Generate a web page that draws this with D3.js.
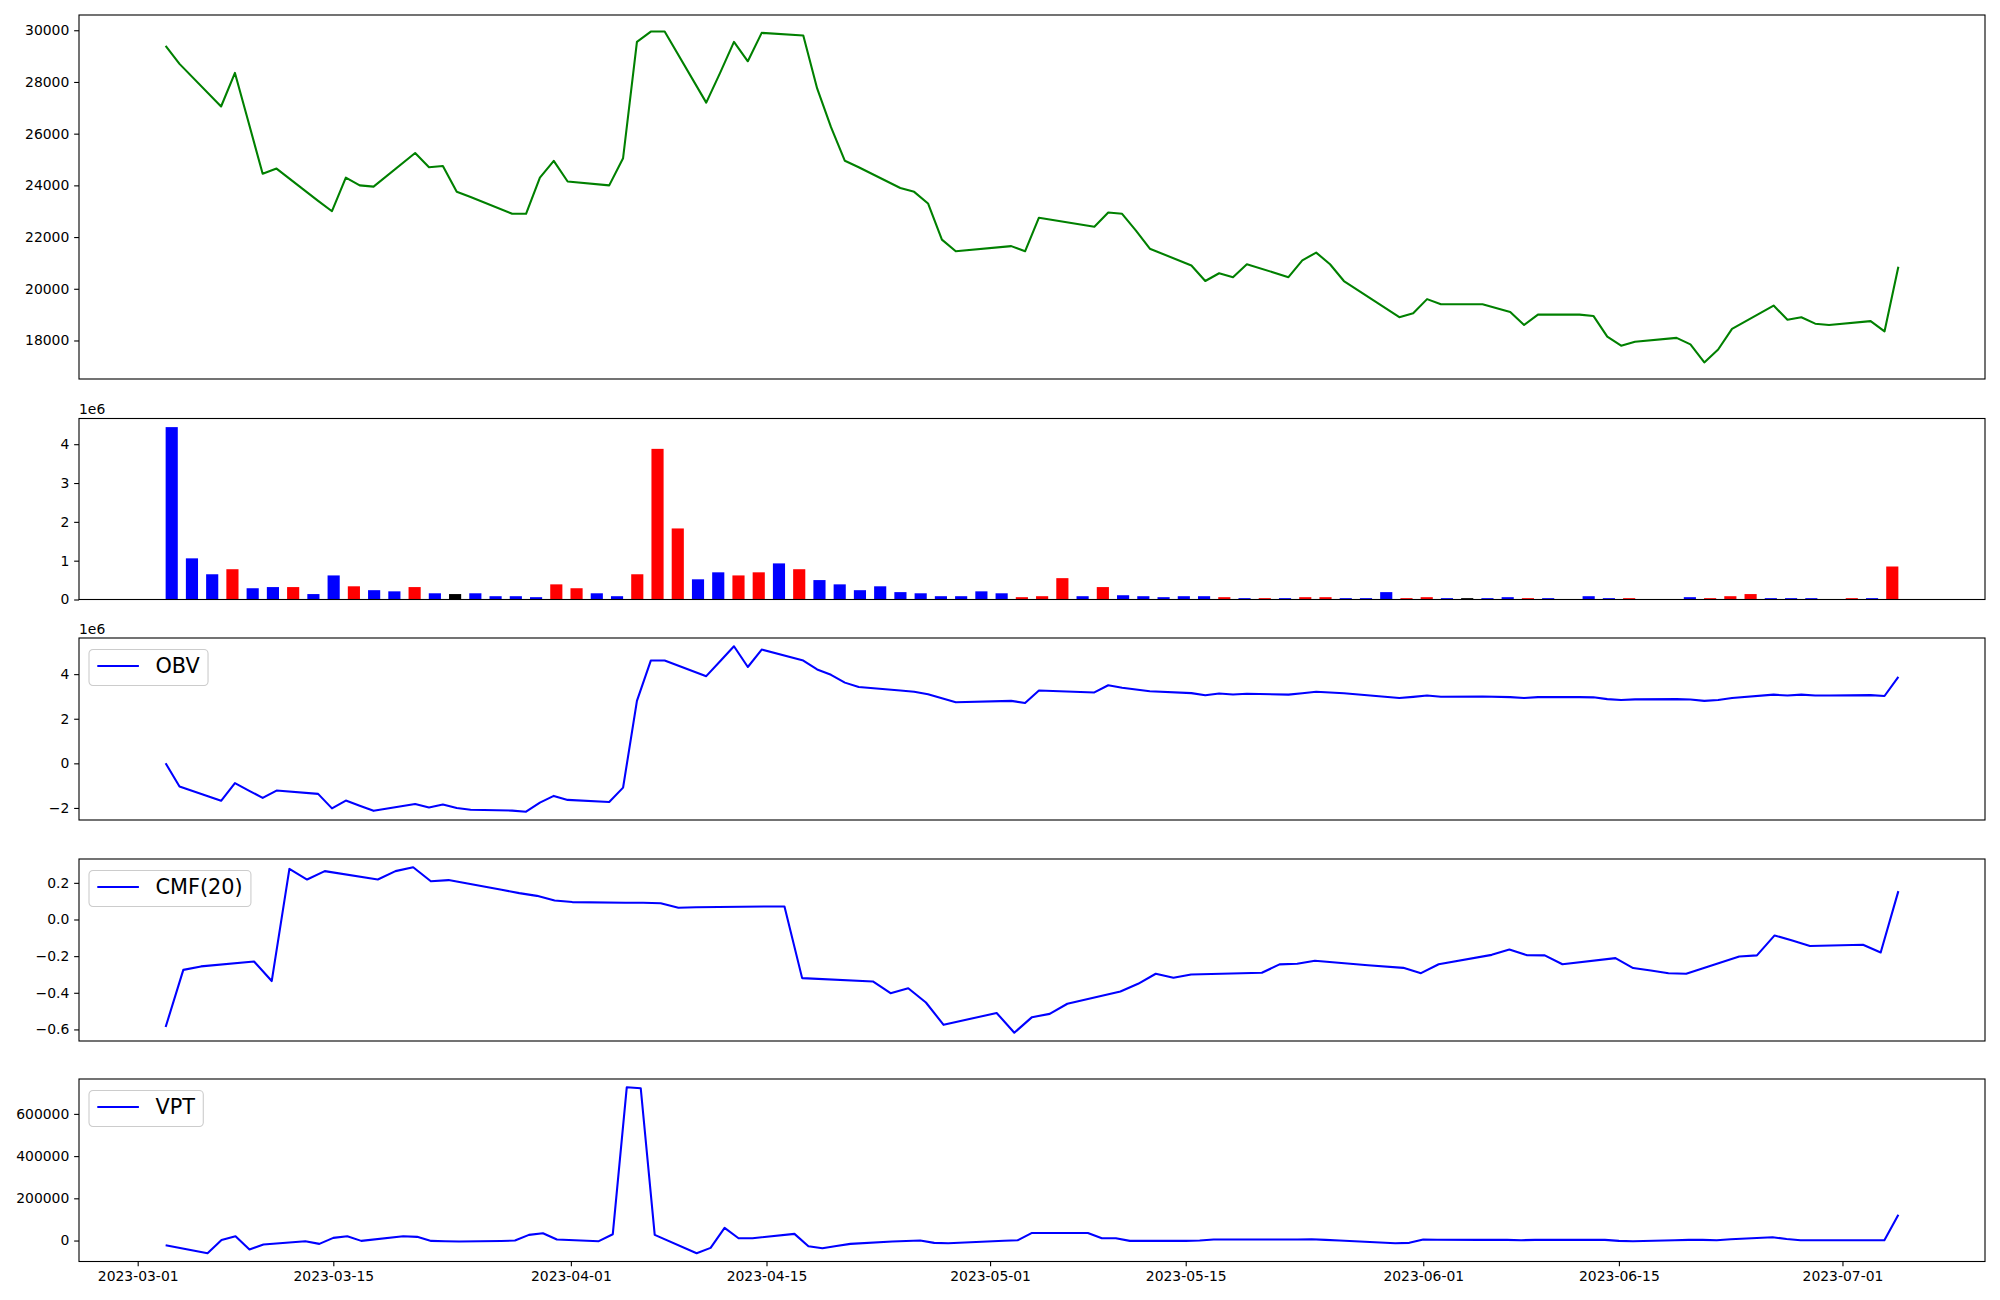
<!DOCTYPE html>
<html><head><meta charset="utf-8">
<script src="https://cdn.jsdelivr.net/npm/d3@7"></script>
<style>
body{margin:0;background:#fff;}
svg{display:block;font-family:"DejaVu Sans",sans-serif;}
</style>
</head><body>
<svg id="chart" width="2000" height="1300"></svg>
<script>
// ---------------- DATA ----------------
const dates = ["2023-03-02","2023-03-03","2023-03-06","2023-03-07","2023-03-08","2023-03-09","2023-03-10","2023-03-13","2023-03-14","2023-03-15","2023-03-16","2023-03-17","2023-03-20","2023-03-21","2023-03-22","2023-03-23","2023-03-24","2023-03-27","2023-03-28","2023-03-29","2023-03-30","2023-03-31",
"2023-04-03","2023-04-04","2023-04-05","2023-04-06","2023-04-07","2023-04-10","2023-04-11","2023-04-12","2023-04-13","2023-04-14","2023-04-17","2023-04-18","2023-04-19","2023-04-20","2023-04-21","2023-04-24","2023-04-25","2023-04-26","2023-04-27","2023-04-28",
"2023-05-02","2023-05-03","2023-05-04","2023-05-08","2023-05-09","2023-05-10","2023-05-11","2023-05-12","2023-05-15","2023-05-16","2023-05-17","2023-05-18","2023-05-19","2023-05-22","2023-05-23","2023-05-24","2023-05-25","2023-05-26","2023-05-30","2023-05-31",
"2023-06-01","2023-06-02","2023-06-05","2023-06-07","2023-06-08","2023-06-09","2023-06-12","2023-06-13","2023-06-14","2023-06-15","2023-06-16","2023-06-19","2023-06-20","2023-06-21","2023-06-22","2023-06-23","2023-06-26","2023-06-27","2023-06-28","2023-06-29","2023-06-30",
"2023-07-03","2023-07-04","2023-07-05"];

const close = [29400,28700,27050,28350,26400,24450,24650,23400,23000,24300,24000,23950,25250,24700,24750,23750,23550,22900,22900,24300,24950,24150,
24000,25050,29550,29950,29950,27200,28350,29550,28800,29900,29800,27750,26250,24950,24700,23900,23750,23300,21900,21450,
21650,21450,22750,22400,22950,22900,22250,21550,20900,20300,20600,20450,20950,20450,21100,21400,20950,20300,18900,19050,
19600,19400,19400,19100,18600,19000,19000,18950,18150,17800,17950,18100,17850,17150,17650,18450,19350,18800,18900,18650,18600,
18750,18350,20850];

const volume = [4.44e6,1.06e6,0.65e6,0.78e6,0.29e6,0.32e6,0.32e6,0.14e6,0.62e6,0.34e6,
0.24e6,0.21e6,0.32e6,0.16e6,0.14e6,0.16e6,0.085e6,0.085e6,0.06e6,0.39e6,
0.29e6,0.16e6,0.085e6,0.65e6,3.88e6,1.83e6,0.52e6,0.70e6,0.62e6,0.70e6,
0.93e6,0.78e6,0.50e6,0.39e6,0.24e6,0.34e6,0.19e6,0.16e6,0.085e6,0.085e6,
0.21e6,0.16e6,0.06e6,0.085e6,0.55e6,0.085e6,0.32e6,0.11e6,0.085e6,0.06e6,
0.085e6,0.085e6,0.06e6,0.035e6,0.035e6,0.035e6,0.06e6,0.06e6,0.035e6,0.035e6,
0.19e6,0.035e6,0.06e6,0.035e6,0.035e6,0.035e6,0.06e6,0.035e6,0.035e6,0.01e6,
0.085e6,0.035e6,0.035e6,0.01e6,0.01e6,0.06e6,0.035e6,0.085e6,0.14e6,0.035e6,
0.035e6,0.035e6,0.01e6,0.035e6,0.035e6,0.85e6];

// candle direction: 1 = up (red), -1 = down (blue), 0 = unchanged (black)
const candle = [-1,-1,-1,1,-1,-1,1,-1,-1,1,-1,-1,1,-1,0,-1,-1,-1,-1,1,1,-1,-1,1,1,1,-1,-1,1,1,
-1,1,-1,-1,-1,-1,-1,-1,-1,-1,-1,-1,1,1,1,-1,1,-1,-1,-1,-1,-1,1,-1,1,-1,1,1,-1,-1,
-1,1,1,-1,0,-1,-1,1,-1,-1,-1,-1,1,1,-1,-1,1,1,1,-1,-1,-1,-1,1,-1,1];

const obv = [0,-1.04e6,-1.68e6,-0.89e6,-1.22e6,-1.55e6,-1.22e6,-1.37e6,-2.02e6,-1.67e6,
-1.90e6,-2.13e6,-1.82e6,-1.98e6,-1.85e6,-2.00e6,-2.08e6,-2.12e6,-2.17e6,-1.76e6,
-1.46e6,-1.64e6,-1.73e6,-1.09e6,2.80e6,4.61e6,4.61e6,3.91e6,4.58e6,5.25e6,
4.32e6,5.10e6,4.61e6,4.21e6,3.97e6,3.62e6,3.42e6,3.27e6,3.21e6,3.10e6,
2.92e6,2.74e6,2.80e6,2.71e6,3.27e6,3.18e6,3.50e6,3.39e6,3.31e6,3.23e6,
3.15e6,3.05e6,3.13e6,3.09e6,3.12e6,3.08e6,3.14e6,3.21e6,3.18e6,3.14e6,
2.93e6,2.98e6,3.04e6,2.99e6,3.00e6,2.97e6,2.93e6,2.97e6,2.97e6,2.96e6,
2.88e6,2.84e6,2.87e6,2.88e6,2.86e6,2.80e6,2.84e6,2.93e6,3.08e6,3.04e6,
3.08e6,3.04e6,3.04e6,3.06e6,3.02e6,3.88e6];

const cmf = [null,null,null,null,null,null,null,null,null,null,null,null,null,null,null,null,null,null,null,
-0.587,-0.275,-0.256,-0.229,-0.336,0.276,0.218,0.264,0.218,0.264,0.285,0.209,0.215,
0.162,0.144,0.129,0.104,0.095,0.091,0.091,0.089,0.064,0.067,0.071,0.071,-0.320,
-0.338,-0.402,-0.375,-0.453,-0.575,-0.510,-0.618,-0.533,-0.515,-0.460,
-0.393,-0.351,-0.296,-0.318,-0.300,-0.291,-0.245,-0.242,-0.225,-0.250,-0.264,-0.293,-0.244,
-0.193,-0.164,-0.195,-0.196,-0.244,-0.211,-0.265,-0.278,-0.293,-0.296,
-0.202,-0.196,-0.087,-0.115,-0.145,-0.138,-0.180,0.155];

const vpt = [null,-22000,-60000,3000,20500,-42600,-19000,-3000,-15800,12600,
20500,-1600,20500,17400,-1600,-3000,-4700,-2000,0,26800,
34700,4700,-3000,30000,726000,721600,26800,-60000,-34700,60000,
11000,11000,31600,-26800,-36300,-26000,-15800,-4700,-2300,0,
-11000,-12600,-1000,1600,36000,36000,11000,11000,-1600,-1600,
-1600,0,4700,4700,4700,4700,4700,6300,3000,0,
-12600,-11000,4700,4000,3000,3000,1600,3000,3000,3000,
3000,-1600,-3000,1600,3000,3000,1600,6300,15800,7000,
1600,1600,1600,1600,1600,121600];

const priceTicks = [18000,20000,22000,24000,26000,28000,30000];
const volumeTicks = [0,1e6,2e6,3e6,4e6];
const obvTicks = [-2e6,0,2e6,4e6];
const cmfTicks = [-0.6,-0.4,-0.2,0.0,0.2];
const vptTicks = [0,200000,400000,600000];
const dateTicks = ["2023-03-01","2023-03-15","2023-04-01","2023-04-15","2023-05-01","2023-05-15","2023-06-01","2023-06-15","2023-07-01"];
const legendLabels = ["OBV","CMF(20)","VPT"];

// ---------------- LAYOUT ----------------
const svg = d3.select("#chart");
svg.append("rect").attr("width",2000).attr("height",1300).attr("fill","#fff");
const L = 79, R = 1985;
const boxes = [[15,379],[418.5,599.5],[638,820],[859,1041],[1079,1261.5]];
const FS = 13.9, TICK = 4.86, PAD = 4.86, LW = 2.08;
const parse = d3.utcParse("%Y-%m-%d");
const D = dates.map(parse);
const colorOf = c => c > 0 ? "red" : (c < 0 ? "blue" : "black");

function padExt(a, b) { const s = b - a; return [a - 0.05*s, b + 0.05*s]; }
function timeScale(vals) {
  const ds = D.filter((d,i) => vals[i] !== null && vals[i] !== undefined);
  const a = +d3.min(ds), b = +d3.max(ds);
  const [p, q] = padExt(a, b);
  return d3.scaleUtc().domain([new Date(p), new Date(q)]).range([L, R]);
}
function yScale(vals, box, zeroBase) {
  const v = vals.filter(x => x !== null);
  let lo = d3.min(v), hi = d3.max(v);
  let dom;
  if (zeroBase) dom = [0, hi * 1.05]; else dom = padExt(lo, hi);
  return d3.scaleLinear().domain(dom).range([box[1], box[0]]);
}
function yAxis(g, y, ticks, fmt) {
  const ax = d3.axisLeft(y).tickValues(ticks).tickFormat(fmt).tickSize(TICK).tickPadding(PAD);
  const a = g.append("g").attr("transform", `translate(${L},0)`).call(ax);
  a.select(".domain").remove();
  a.selectAll("line").attr("stroke","#000").attr("stroke-width",1.1);
  a.selectAll("text").attr("font-size",FS).attr("font-family","DejaVu Sans").attr("fill","#000");
}
function frame(box) {
  svg.append("rect").attr("x",L).attr("y",box[0]).attr("width",R-L).attr("height",box[1]-box[0])
    .attr("fill","none").attr("stroke","#000").attr("stroke-width",1.1);
}
function offsetText(box) {
  svg.append("text").attr("x",L).attr("y",box[0]-4.5).attr("font-size",FS).attr("fill","#000").text("1e6");
}
function drawLine(x, y, vals, color) {
  const pts = D.map((d,i) => ({d, v: vals[i]}));
  svg.append("path").datum(pts)
    .attr("d", d3.line().defined(p => p.v !== null).x(p => x(p.d)).y(p => y(p.v)))
    .attr("fill","none").attr("stroke",color).attr("stroke-width",LW)
    .attr("stroke-linejoin","round");
}
function legend(box, label) {
  const fs = 20.8;
  const g = svg.append("g").attr("transform", `translate(${L+10},${box[0]+11.5})`);
  const rect = g.append("rect").attr("x",0).attr("y",0).attr("height",36).attr("rx",4).attr("ry",4)
    .attr("fill","#fff").attr("fill-opacity",0.8).attr("stroke","#cccccc").attr("stroke-width",1.1);
  g.append("line").attr("x1",8.3).attr("x2",49.9).attr("y1",16.5).attr("y2",16.5)
    .attr("stroke","blue").attr("stroke-width",LW);
  const t = g.append("text").attr("x",66.5).attr("y",16.5).attr("dy","0.36em")
    .attr("font-size",fs).attr("fill","#000").text(label);
  const w = t.node().getComputedTextLength();
  rect.attr("width", 66.5 + w + 8.3);
}

// ---------------- PANEL 1: price ----------------
{
  const box = boxes[0];
  const x = timeScale(close);
  const y = yScale(close, box, false);
  const g = svg.append("g");
  drawLine(x, y, close, "green");
  yAxis(g, y, priceTicks, d3.format("d"));
  frame(box);
}
// ---------------- PANEL 2: volume bars ----------------
{
  const box = boxes[1];
  const bw = 0.6;
  const [p, q] = padExt(-bw/2, volume.length - 1 + bw/2);
  const x = d3.scaleLinear().domain([p, q]).range([L, R]);
  const y = yScale(volume, box, true);
  svg.append("g").selectAll("rect").data(volume).join("rect")
    .attr("x", (v,i) => x(i - bw/2)).attr("width", (v,i) => x(i + bw/2) - x(i - bw/2))
    .attr("y", v => y(v)).attr("height", v => y(0) - y(v))
    .attr("fill", (v,i) => colorOf(candle[i]));
  yAxis(svg.append("g"), y, volumeTicks, v => d3.format("d")(v/1e6));
  frame(box);
  offsetText(box);
}
// ---------------- PANEL 3: OBV ----------------
{
  const box = boxes[2];
  const x = timeScale(obv);
  const y = yScale(obv, box, false);
  drawLine(x, y, obv, "blue");
  yAxis(svg.append("g"), y, obvTicks, v => d3.format("d")(v/1e6));
  frame(box);
  offsetText(box);
  legend(box, legendLabels[0]);
}
// ---------------- PANEL 4: CMF ----------------
{
  const box = boxes[3];
  const x = timeScale(cmf);
  const y = yScale(cmf, box, false);
  drawLine(x, y, cmf, "blue");
  yAxis(svg.append("g"), y, cmfTicks, d3.format(".1f"));
  frame(box);
  legend(box, legendLabels[1]);
}
// ---------------- PANEL 5: VPT ----------------
{
  const box = boxes[4];
  const x = timeScale(vpt);
  const y = yScale(vpt, box, false);
  drawLine(x, y, vpt, "blue");
  yAxis(svg.append("g"), y, vptTicks, d3.format("d"));
  const ax = d3.axisBottom(x).tickValues(dateTicks.map(parse)).tickFormat(d3.utcFormat("%Y-%m-%d"))
    .tickSize(TICK).tickPadding(PAD);
  const a = svg.append("g").attr("transform", `translate(0,${box[1]})`).call(ax);
  a.select(".domain").remove();
  a.selectAll("line").attr("stroke","#000").attr("stroke-width",1.1);
  a.selectAll("text").attr("font-size",FS).attr("font-family","DejaVu Sans").attr("fill","#000");
  frame(box);
  legend(box, legendLabels[2]);
}
</script>
</body></html>
